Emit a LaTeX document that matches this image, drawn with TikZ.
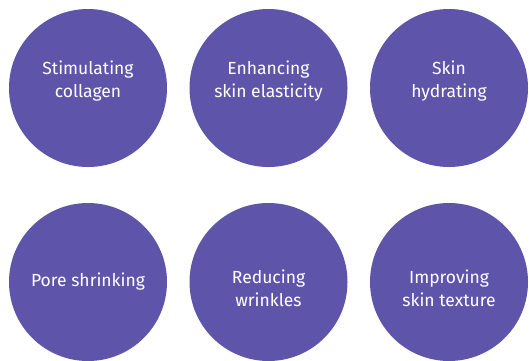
\documentclass[tikz,border=0pt]{standalone}
\usepackage{fontspec}
\setmainfont{Fira Sans}
\usepackage{tikz}
\definecolor{benefit}{HTML}{5E55AB}

\begin{document}
\begin{tikzpicture}[x=1pt,y=-1pt,
    bubble/.style={circle, fill=benefit, minimum size=158pt, inner sep=0pt},
    caption/.style={text=white, align=center, font=\fontsize{17.5}{23}\selectfont}]
    % Frame
    \useasboundingbox (0,0) rectangle (529,360);
    \clip (0,0) rectangle (529,360);
    \fill[white] (0,0) rectangle (529,360);
    
    % Top row
    \node[bubble] (col) at (88,88) {};
    \node[bubble] (ela) at (268.5,88) {};
    \node[bubble] (hyd) at (449,88) {};
    \node[caption] (colt) at ([yshift=7pt]col.center) {Stimulating\\collagen};
    \node[caption] (elat) at ([yshift=7pt]ela.center) {Enhancing\\skin elasticity};
    \node[caption] (hydt) at ([yshift=7pt]hyd.center) {Skin\\hydrating};
    
    % Bottom row
    \node[bubble] (por) at (88,282) {};
    \node[bubble] (wri) at (268.5,282) {};
    \node[bubble] (tex) at (449,282) {};
    \node[caption] (port) at (por.center) {Pore shrinking};
    \node[caption] (writ) at ([yshift=-6pt]wri.center) {Reducing\\wrinkles};
    \node[caption] (text) at ([yshift=-6pt]tex.center) {Improving\\skin texture};
\end{tikzpicture}
\end{document}
